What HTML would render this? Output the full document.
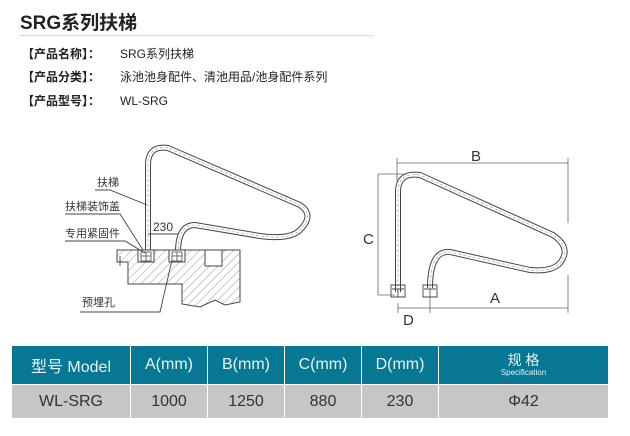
<!DOCTYPE html>
<html><head><meta charset="utf-8"><style>
body{margin:0;width:630px;height:436px;background:#fff;font-family:"Liberation Sans","Noto Sans CJK SC",sans-serif;position:relative;overflow:hidden}
.t{position:absolute;left:20px;top:8px;font-size:19px;font-weight:bold;color:#222}
.dl{position:absolute;left:20px;top:35px;width:352px;border-top:1px dotted #bbb}
.r{position:absolute;left:22px;font-size:12px;color:#222}
.r b{display:inline-block;width:98px}
table{position:absolute;left:11px;top:346px;border-collapse:collapse;width:598px}
td{text-align:center;color:#333;font-size:16px;border-left:1px solid #fff;border-right:1px solid #fff;padding:0}
tr.h td{background:#067894;color:#e8f4f8;height:38px;border-bottom:1px solid #fff;font-size:16px}
tr.b td{background:#c6c6c6;height:33px}
</style></head><body>
<div class="t">SRG系列扶梯</div>
<div class="dl"></div>
<div class="r" style="top:45px"><b>【产品名称】：</b>SRG系列扶梯</div>
<div class="r" style="top:68px"><b>【产品分类】：</b>泳池池身配件、清池用品/池身配件系列</div>
<div class="r" style="top:92px"><b>【产品型号】：</b>WL-SRG</div>
<svg width="630" height="340" style="position:absolute;left:0;top:0" font-family="Liberation Sans,Noto Sans CJK SC,sans-serif">
<defs><pattern id="h" width="6" height="6" patternUnits="userSpaceOnUse" patternTransform="rotate(45)"><line x1="0" y1="0" x2="0" y2="6" stroke="#777" stroke-width="0.7"/></pattern></defs>
<g fill="none" stroke="#444">
<path d="M148 252 V165 Q148 145 168 148 L300 205 Q315 215 300 230 Q290 240 260 236 L195 225 Q178 225 178 252" stroke-width="6"/>
<path d="M148 252 V165 Q148 145 168 148 L300 205 Q315 215 300 230 Q290 240 260 236 L195 225 Q178 225 178 252" stroke="#fff" stroke-width="4"/>
<path d="M148 252 V165 Q148 145 168 148 L300 205 Q315 215 300 230 Q290 240 260 236 L195 225 Q178 225 178 252" stroke="#999" stroke-width="0.6" stroke-dasharray="3 2"/>
<path d="M117 250 H240 V302 L225 305 L215 300 L200 307 L182 304 V284 H128 V262 H117 Z" fill="url(#h)" stroke-width="1"/>
<rect x="138" y="250" width="16" height="12" fill="#fff"/><rect x="169" y="250" width="16" height="12" fill="#fff"/>
<path d="M141 252h10v9h-10zM141 256h10M146 252v9M172 252h10v9h-10zM172 256h10M177 252v9" stroke-width="0.8"/>
<rect x="205" y="250" width="17" height="16" fill="#fff"/>
<path d="M120 256v10M95 190h15l37 15M65 214h55l23 36M65 241h60l20 12M80 312h80l12-52M148 234h30" stroke-width="0.9"/>
<path d="M398 292 V192 Q398 172 420 175 L553 235 Q572 248 560 263 Q552 272 530 270 L450 252 Q430 250 430 288" stroke-width="6"/>
<path d="M398 292 V192 Q398 172 420 175 L553 235 Q572 248 560 263 Q552 272 530 270 L450 252 Q430 250 430 288" stroke="#fff" stroke-width="4"/>
<path d="M398 292 V192 Q398 172 420 175 L553 235 Q572 248 560 263 Q552 272 530 270 L450 252 Q430 250 430 288" stroke="#999" stroke-width="0.6" stroke-dasharray="3 2"/>
<path d="M391 285h14v12h-14zM392 289h12M398 289v8M423 285h14v12h-14zM424 289h12M430 289v8" stroke-width="0.9"/>
<path d="M397 158v25M397 163h171M568 158v65M568 275v38M378 174v121M378 174h26M378 295h17M398 303v10M430 290v23M398 308h170" stroke="#666" stroke-width="0.8"/>
</g>
<g fill="#333" font-size="11"><text x="97" y="186">扶梯</text><text x="65" y="210">扶梯装饰盖</text><text x="65" y="237">专用紧固件</text><text x="82" y="306">预埋孔</text><text x="153" y="231" font-size="12">230</text></g>
<g fill="#333" font-size="15"><text x="471" y="161">B</text><text x="363" y="244">C</text><text x="403" y="325">D</text><text x="490" y="303">A</text></g>
</svg>
<table><tr class="h"><td style="width:118px">型号 Model</td><td style="width:76px">A(mm)</td><td style="width:76px">B(mm)</td><td style="width:76px">C(mm)</td><td style="width:76px">D(mm)</td><td><div style="font-size:14px;line-height:16px">规 格</div><div style="font-size:8px;line-height:10px">Specification</div></td></tr>
<tr class="b"><td>WL-SRG</td><td>1000</td><td>1250</td><td>880</td><td>230</td><td>Φ42</td></tr></table>
</body></html>
